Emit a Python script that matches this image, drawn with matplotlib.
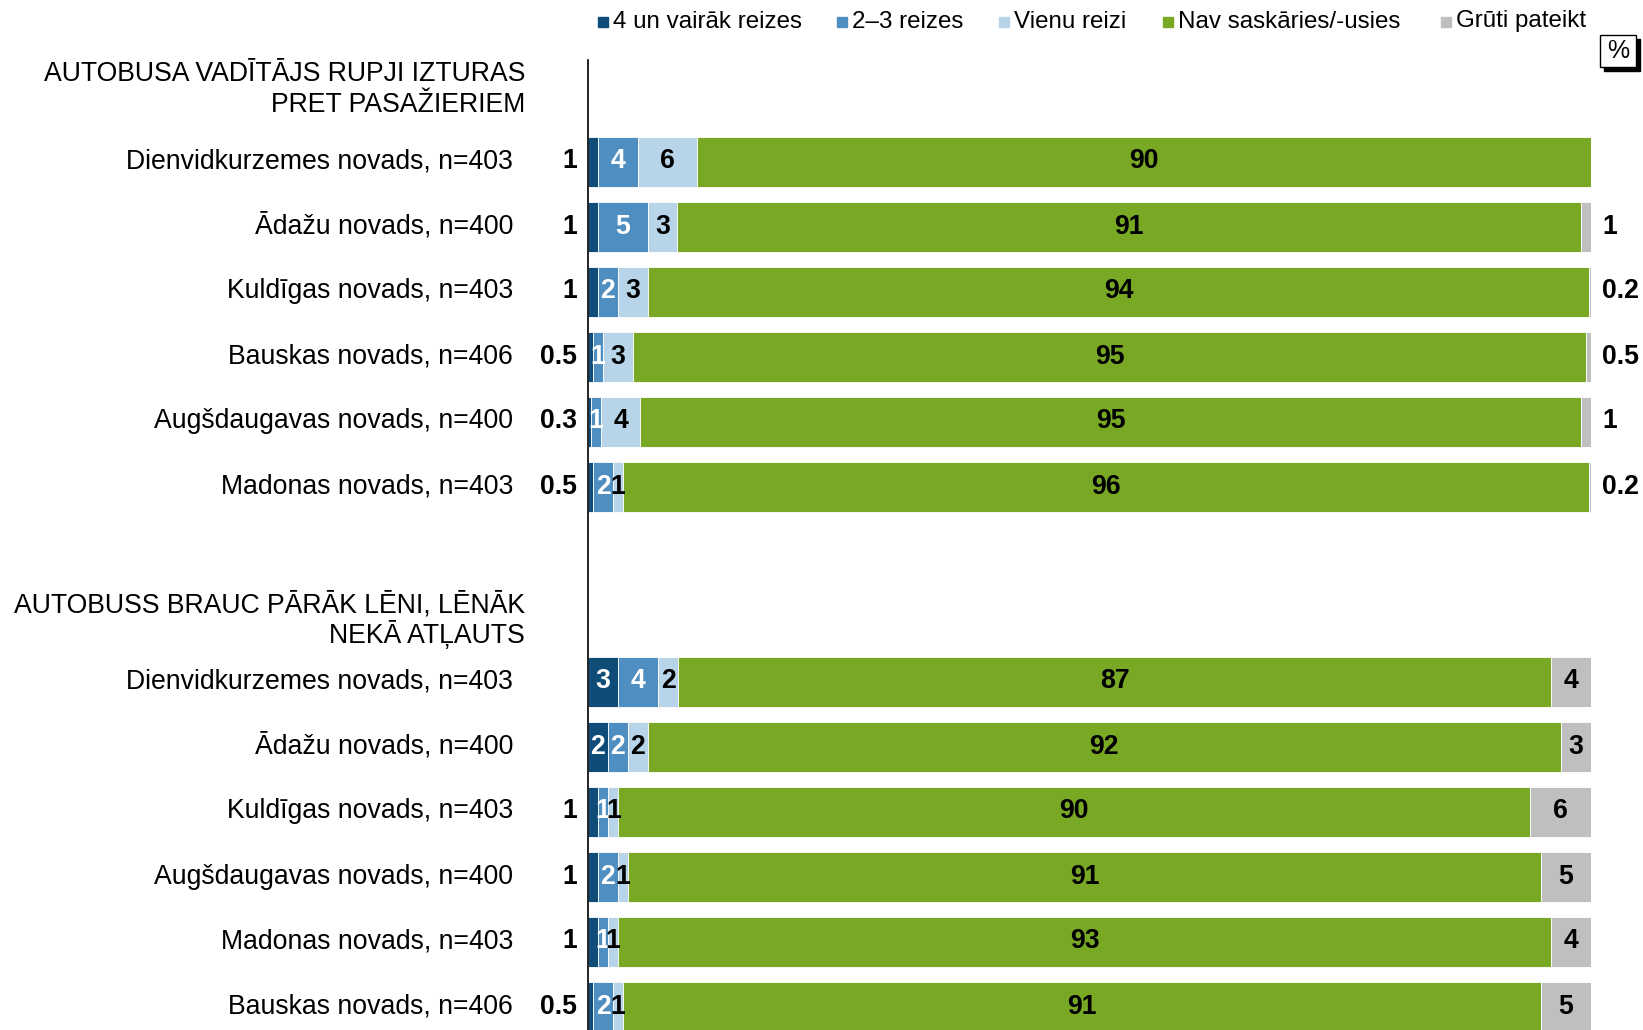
import matplotlib
matplotlib.use("Agg")
import matplotlib.pyplot as plt
import numpy as np
from matplotlib.lines import Line2D
from matplotlib.patches import Rectangle
from matplotlib.transforms import blended_transform_factory

plt.rcParams['font.family'] = ['Liberation Sans', 'DejaVu Sans']

legend_labels = ["4 un vairāk reizes", "2–3 reizes", "Vienu reizi", "Nav saskāries/-usies", "Grūti pateikt"]
colors = ["#0F4C78", "#4F8EC1", "#B8D4E9", "#79A825", "#BFBFBF"]

header_g1 = ["AUTOBUSA VADĪTĀJS RUPJI IZTURAS", "PRET PASAŽIERIEM"]
categories_g1 = ["Dienvidkurzemes novads, n=403", "Ādažu novads, n=400", "Kuldīgas novads, n=403",
                 "Bauskas novads, n=406", "Augšdaugavas novads, n=400", "Madonas novads, n=403"]
g1_4plus = [1, 1, 1, 0.5, 0.3, 0.5]
g1_2_3 = [4, 5, 2, 1, 1, 2]
g1_once = [6, 3, 3, 3, 4, 1]
g1_never = [90, 91, 94, 95, 95, 96]
g1_hard = [0, 1, 0.2, 0.5, 1, 0.2]

header_g2 = ["AUTOBUSS BRAUC PĀRĀK LĒNI, LĒNĀK", "NEKĀ ATĻAUTS"]
categories_g2 = ["Dienvidkurzemes novads, n=403", "Ādažu novads, n=400", "Kuldīgas novads, n=403",
                 "Augšdaugavas novads, n=400", "Madonas novads, n=403", "Bauskas novads, n=406"]
g2_4plus = [3, 2, 1, 1, 1, 0.5]
g2_2_3 = [4, 2, 1, 2, 1, 2]
g2_once = [2, 2, 1, 1, 1, 1]
g2_never = [87, 92, 90, 91, 93, 91]
g2_hard = [4, 3, 6, 5, 4, 5]

W, H = 1643, 1030
fig = plt.figure(figsize=(W / 100, H / 100), dpi=100)
ax_left, ax_right, ax_top = 588, 1591, 60
ax = fig.add_axes([ax_left / W, 0, (ax_right - ax_left) / W, (H - ax_top) / H])

row0 = 161.5
pitch = 65
y_top = (ax_top - row0) / pitch
y_bot = (H - row0) / pitch
ax.set_xlim(0, 100)
ax.set_ylim(y_bot, y_top)
for s in ["top", "right", "bottom"]:
    ax.spines[s].set_visible(False)
ax.spines["left"].set_linewidth(1.2)
ax.set_xticks([])
ax.set_yticks([])

fs = 19.2
trans_fig_x = blended_transform_factory(fig.transFigure, ax.transData)


def fmt(v):
    return str(int(v)) if float(v).is_integer() else str(v)


def draw_group(start_row, header, header_base, cats, series):
    data = np.array(series, dtype=float).T  # rows x series
    ys = start_row + np.arange(len(cats))
    for k, line in enumerate(header):
        ax.text(525 / W, start_row + header_base + k * 31 / pitch, line, transform=trans_fig_x,
                ha="right", va="baseline", fontsize=fs)
    for i, (y, cat) in enumerate(zip(ys, cats)):
        ax.text(513 / W, y, cat, transform=trans_fig_x, ha="right", va="center", fontsize=fs)
        vals = data[i]
        widths = vals / vals.sum() * 100
        left = 0.0
        for j, (v, w) in enumerate(zip(vals, widths)):
            if v > 0:
                ax.barh(y, w, left=left, height=50 / pitch, color=colors[j],
                        edgecolor="white", linewidth=0.6)
            center = left + w / 2
            if j == 0:
                if v >= 2:
                    ax.text(center, y, fmt(v), ha="center", va="center", fontsize=fs,
                            fontweight="bold", color="white")
                else:
                    ax.text(577 / W, y, fmt(v), transform=trans_fig_x, ha="right", va="center",
                            fontsize=fs, fontweight="bold", color="black")
            elif j == 1:
                ax.text(center, y, fmt(v), ha="center", va="center", fontsize=fs,
                        fontweight="bold", color="white")
            elif j in (2, 3):
                ax.text(center, y, fmt(v), ha="center", va="center", fontsize=fs,
                        fontweight="bold", color="black")
            else:
                if v == 0:
                    pass
                elif v <= 1:
                    ax.text(1602 / W, y, fmt(v), transform=trans_fig_x, ha="left", va="center",
                            fontsize=fs, fontweight="bold", color="black")
                else:
                    ax.text(center, y, fmt(v), ha="center", va="center", fontsize=fs,
                            fontweight="bold", color="black")
            left += w


draw_group(0, header_g1, -1.235, categories_g1, [g1_4plus, g1_2_3, g1_once, g1_never, g1_hard])
draw_group(8, header_g2, -1.065, categories_g2, [g2_4plus, g2_2_3, g2_once, g2_never, g2_hard])

# legend (placed item by item to follow the original uneven spacing)
leg_marker_x = [602.5, 841.5, 1004, 1167.5, 1446]
leg_y = 1 - 21.5 / H
for mx, c, lab in zip(leg_marker_x, colors, legend_labels):
    fig.add_artist(Line2D([mx / W], [leg_y], marker="s", markersize=7, linestyle="none",
                          color=c, transform=fig.transFigure))
    fig.text((mx + 10.5) / W, leg_y, lab, ha="left", va="center", fontsize=17.4)

# "%" box with shadow
bx, by, bw, bh = 1600, 35, 36, 32
fig.patches.append(Rectangle(((bx + 4) / W, 1 - (by + bh + 4) / H), bw / W, bh / H,
                             transform=fig.transFigure, facecolor="black", edgecolor="black",
                             zorder=1))
fig.patches.append(Rectangle((bx / W, 1 - (by + bh) / H), bw / W, bh / H,
                             transform=fig.transFigure, facecolor="white", edgecolor="black",
                             linewidth=1, zorder=2))
fig.text((bx + bw / 2) / W, 1 - (by + bh / 2) / H, "%", ha="center", va="center", fontsize=18,
         zorder=3)

fig.savefig("out.png", dpi=100)
